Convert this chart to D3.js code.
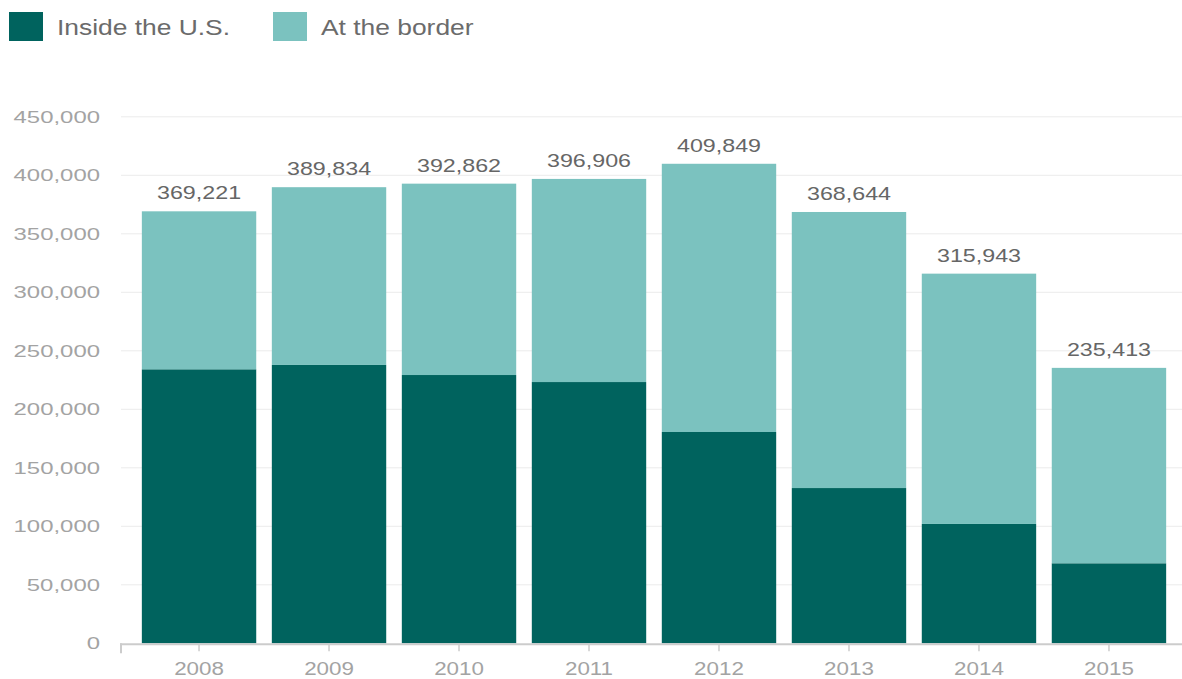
<!DOCTYPE html>
<html>
<head>
<meta charset="utf-8">
<script src="https://cdn.jsdelivr.net/npm/d3@7"></script>
<style>
  html, body { margin: 0; padding: 0; background: #fff; }
  svg { display: block; font-family: "Liberation Sans", Arial, sans-serif; }
</style>
</head>
<body>
<div id="chart"></div>
<script>
// ── Data ──────────────────────────────────────────────────────────────────────
const years   = ['2008', '2009', '2010', '2011', '2012', '2013', '2014', '2015'];
const totals  = [369221, 389834, 392862, 396906, 409849, 368644, 315943, 235413];
const inside  = [234200, 237900, 229300, 223300, 180600, 132700, 102000, 68400];
const border  = totals.map((t, i) => t - inside[i]);
const yTicks  = [0, 50000, 100000, 150000, 200000, 250000, 300000, 350000, 400000, 450000];
const seriesNames = ['Inside the U.S.', 'At the border'];

const W = 1182, H = 679;
const C_DARK  = '#00635e';
const C_LIGHT = '#7bc2bf';

const svg = d3.select('#chart').append('svg').attr('width', W).attr('height', H);

// text in the source is rendered horizontally stretched; mimic with a scale
function label(parent, x, y, txt, opts) {
  return parent.append('text')
    .attr('transform', `translate(${x},${y}) scale(${opts.sx},1)`)
    .attr('text-anchor', opts.anchor || 'start')
    .attr('dy', opts.dy || null)
    .attr('font-size', opts.size)
    .attr('fill', opts.fill)
    .text(txt);
}

// ── Scales ────────────────────────────────────────────────────────────────────
const x = d3.scaleBand().domain(years).range([120, 1188])
  .paddingInner(0.12).paddingOuter(0.168);
const y = d3.scaleLinear().domain([0, 450000]).range([643.3, 116.8]);

// ── Grid + y labels ───────────────────────────────────────────────────────────
const grid = svg.append('g');
yTicks.forEach(t => {
  if (t > 0) {
    grid.append('line')
      .attr('x1', 121).attr('x2', W)
      .attr('y1', y(t)).attr('y2', y(t))
      .attr('stroke', '#ebebeb').attr('stroke-width', 1);
  }
  label(grid, 100, y(t), d3.format(',')(t),
    { sx: 1.45, anchor: 'end', dy: '0.35em', size: 16.5, fill: '#a3a3a3' });
});

// ── Bars ──────────────────────────────────────────────────────────────────────
const stacked = years.map((yr, i) => ({ yr, inside: inside[i], border: border[i], total: totals[i] }));

svg.append('g').selectAll('rect').data(stacked).join('rect')
  .attr('x', d => x(d.yr)).attr('width', x.bandwidth())
  .attr('y', d => y(d.inside)).attr('height', d => y(0) - y(d.inside))
  .attr('fill', C_DARK);

svg.append('g').selectAll('rect').data(stacked).join('rect')
  .attr('x', d => x(d.yr)).attr('width', x.bandwidth())
  .attr('y', d => y(d.total)).attr('height', d => y(d.inside) - y(d.total))
  .attr('fill', C_LIGHT);

// total labels
const totG = svg.append('g');
stacked.forEach(d => {
  label(totG, x(d.yr) + x.bandwidth() / 2, y(d.total) - 12, d3.format(',')(d.total),
    { sx: 1.33, anchor: 'middle', size: 17.5, fill: '#666' });
});

// ── X axis ────────────────────────────────────────────────────────────────────
const ax = svg.append('g');
ax.append('line')
  .attr('x1', 120).attr('x2', W)
  .attr('y1', y(0) + 1).attr('y2', y(0) + 1)
  .attr('stroke', '#cccccc').attr('stroke-width', 2);
ax.append('line')
  .attr('x1', 121).attr('x2', 121)
  .attr('y1', y(0)).attr('y2', y(0) + 10)
  .attr('stroke', '#cccccc').attr('stroke-width', 2);
years.forEach(yr => {
  const cx = x(yr) + x.bandwidth() / 2;
  ax.append('line')
    .attr('x1', cx).attr('x2', cx)
    .attr('y1', y(0) + 1).attr('y2', y(0) + 8)
    .attr('stroke', '#cccccc').attr('stroke-width', 1.5);
  label(ax, cx, 675, yr, { sx: 1.28, anchor: 'middle', size: 17.5, fill: '#a3a3a3' });
});

// ── Legend ────────────────────────────────────────────────────────────────────
const legX = [9, 273];
const legC = [C_DARK, C_LIGHT];
seriesNames.forEach((name, i) => {
  svg.append('rect')
    .attr('x', legX[i]).attr('y', 12).attr('width', 34).attr('height', 29)
    .attr('fill', legC[i]);
  label(svg, legX[i] + 48, 35, name, { sx: 1.2, size: 22, fill: '#6b6b6b' });
});
</script>
</body>
</html>
